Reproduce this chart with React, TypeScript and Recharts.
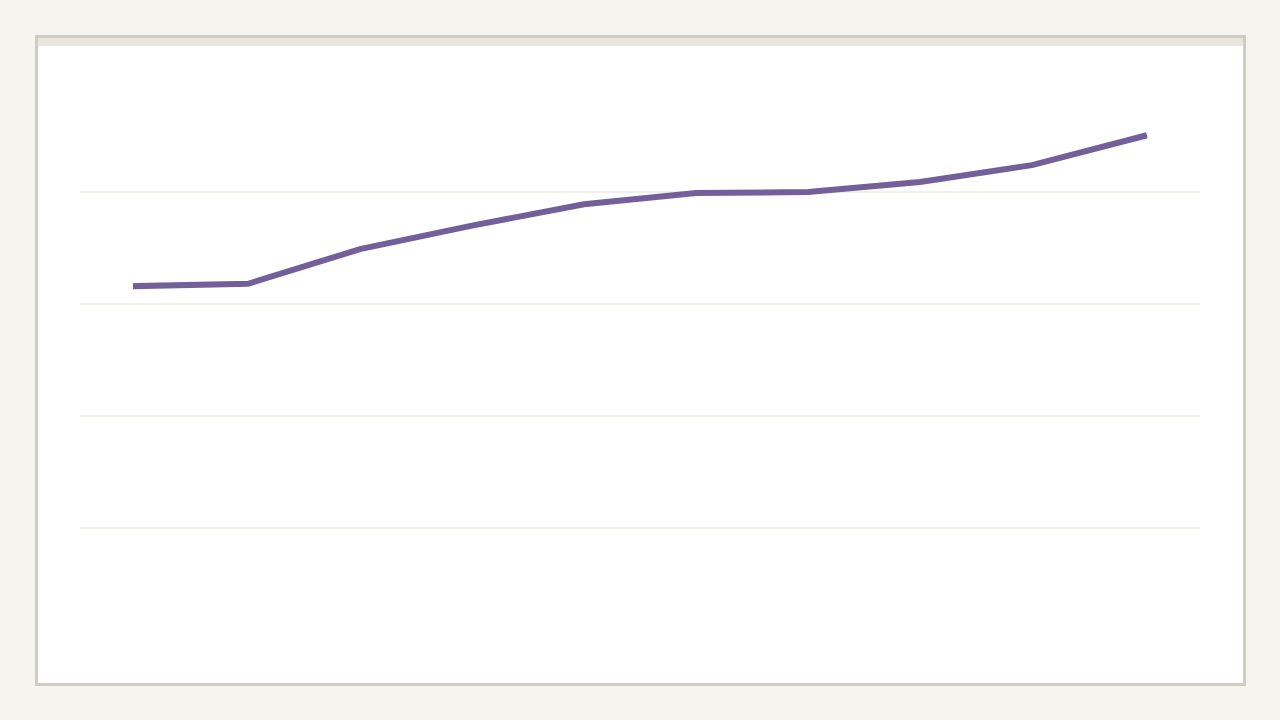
import React from "react";
import { LineChart, Line, XAxis, YAxis, CartesianGrid } from "recharts";

const categories = ["1", "2", "3", "4", "5", "6", "7", "8", "9", "10"];
const values = [3.16, 3.18, 3.49, 3.7, 3.89, 3.99, 4.0, 4.09, 4.24, 4.5];
const yTicks = [1, 2, 3, 4];

const data = categories.map((c, i) => ({ name: c, value: values[i] }));

export default function App() {
  return (
    <div
      style={{
        position: "fixed",
        left: 0,
        top: 0,
        width: 1280,
        height: 720,
        background: "#f5f4ef",
        overflow: "hidden",
      }}
    >
      <div
        style={{
          position: "absolute",
          left: 35,
          top: 35,
          width: 1211,
          height: 651,
          boxSizing: "border-box",
          border: "3px solid #d1ccc2",
          background: "#ffffff",
        }}
      >
        <div style={{ height: 8, background: "#e9e6dd" }} />
      </div>
      <div style={{ position: "absolute", left: 0, top: 0 }}>
        <LineChart
          width={1280}
          height={720}
          data={data}
          margin={{ left: 80, right: 80, top: 80, bottom: 80 }}
        >
          <CartesianGrid vertical={false} stroke="#e2e0d4" strokeWidth={1} syncWithTicks />
          <XAxis dataKey="name" hide padding={{ left: 56, right: 56 }} />
          <YAxis hide domain={[0, 5]} ticks={yTicks} />
          <Line
            type="linear"
            dataKey="value"
            stroke="#735f9a"
            strokeWidth={6}
            strokeLinecap="square"
            dot={false}
            activeDot={false}
            isAnimationActive={false}
          />
        </LineChart>
      </div>
    </div>
  );
}
